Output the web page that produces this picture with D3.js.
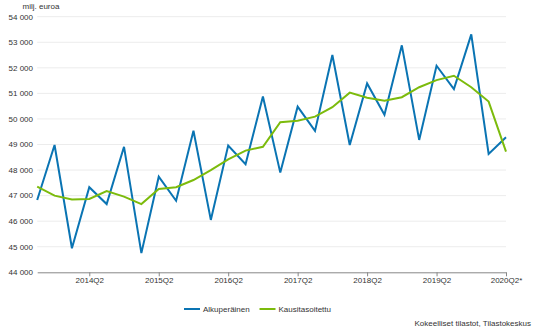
<!DOCTYPE html>
<html>
<head>
<meta charset="utf-8">
<script src="https://cdn.jsdelivr.net/npm/d3@7"></script>
<style>
  body { margin: 0; background: #fff; }
  svg { display: block; font-family: "Liberation Sans", Arial, sans-serif; }
</style>
</head>
<body>
<svg id="chart" width="540" height="330"></svg>
<script>
const quarters = ["2013Q3","2013Q4",
  "2014Q1","2014Q2","2014Q3","2014Q4",
  "2015Q1","2015Q2","2015Q3","2015Q4",
  "2016Q1","2016Q2","2016Q3","2016Q4",
  "2017Q1","2017Q2","2017Q3","2017Q4",
  "2018Q1","2018Q2","2018Q3","2018Q4",
  "2019Q1","2019Q2","2019Q3","2019Q4",
  "2020Q1","2020Q2"];
const original = [46830, 48980, 44940, 47330, 46670, 48910, 44750, 47740,
  46800, 49540, 46050, 48960, 48230, 50880, 47900, 50480, 49530, 52500,
  48980, 51390, 50160, 52880, 49180, 52080, 51170, 53310, 48630, 49280];
const adjusted = [47350, 47000, 46850, 46870, 47180, 46960, 46670, 47260,
  47330, 47610, 48000, 48420, 48760, 48910, 49870, 49930, 50090, 50460,
  51030, 50830, 50710, 50850, 51240, 51520, 51690, 51240, 50680, 48720];
const tickQuarters = ["2014Q2","2015Q2","2016Q2","2017Q2","2018Q2","2019Q2","2020Q2"];
const tickLabels = ["2014Q2","2015Q2","2016Q2","2017Q2","2018Q2","2019Q2","2020Q2*"];
const yTicks = [44000, 45000, 46000, 47000, 48000, 49000, 50000, 51000, 52000, 53000, 54000];
const seriesNames = ["Alkuperäinen", "Kausitasoitettu"];
const colors = ["#0a74b3", "#7cbb0c"];

const svg = d3.select("#chart");
const x = d3.scalePoint().domain(quarters).range([37.2, 506]);
const y = d3.scaleLinear().domain([44000, 54000]).range([272.3, 16.7]);
const fmt = v => d3.format(",")(v).replace(/,/g, " ");

// gridlines
svg.append("g").selectAll("line").data(yTicks.filter(v => v > 44000)).join("line")
  .attr("x1", 37.2).attr("x2", 506)
  .attr("y1", d => y(d)).attr("y2", d => y(d))
  .attr("stroke", "#ececec").attr("stroke-width", 1);

// y labels
svg.append("g").selectAll("text").data(yTicks).join("text")
  .attr("x", 33).attr("y", d => y(d)).attr("dy", "0.35em")
  .attr("text-anchor", "end").attr("font-size", 8).attr("fill", "#333")
  .text(fmt);

svg.append("text").attr("x", 22.5).attr("y", 6).attr("dy", "0.35em")
  .attr("font-size", 8).attr("fill", "#333").text("milj. euroa");

// x axis
const xAxis = d3.axisBottom(x).tickValues(tickQuarters)
  .tickFormat((d, i) => tickLabels[i]).tickSize(4).tickSizeOuter(0);
const gx = svg.append("g").attr("transform", `translate(0,${y(44000)})`).call(xAxis);
gx.select(".domain").attr("stroke", "#888");
gx.selectAll(".tick line").attr("stroke", "#888");
gx.selectAll(".tick text").attr("font-size", 8).attr("fill", "#333")
  .attr("font-family", "Liberation Sans, Arial, sans-serif").attr("y", 5);

// lines
const series = [original, adjusted];
const line = d3.line().x((d, i) => x(quarters[i])).y(d => y(d));
series.forEach((s, k) => {
  svg.append("path").datum(s)
    .attr("fill", "none").attr("stroke", colors[k])
    .attr("stroke-width", 2).attr("stroke-linejoin", "miter")
    .attr("d", line);
});

// legend
const legendX = [184, 259.5];
seriesNames.forEach((n, k) => {
  svg.append("line").attr("x1", legendX[k]).attr("x2", legendX[k] + 16)
    .attr("y1", 309).attr("y2", 309).attr("stroke", colors[k]).attr("stroke-width", 2);
  svg.append("text").attr("x", legendX[k] + 19).attr("y", 309).attr("dy", "0.35em")
    .attr("font-size", 8).attr("fill", "#333").text(n);
});

svg.append("text").attr("x", 531).attr("y", 323).attr("dy", "0.35em")
  .attr("text-anchor", "end").attr("font-size", 8).attr("fill", "#333")
  .text("Kokeelliset tilastot, Tilastokeskus");
</script>
</body>
</html>
